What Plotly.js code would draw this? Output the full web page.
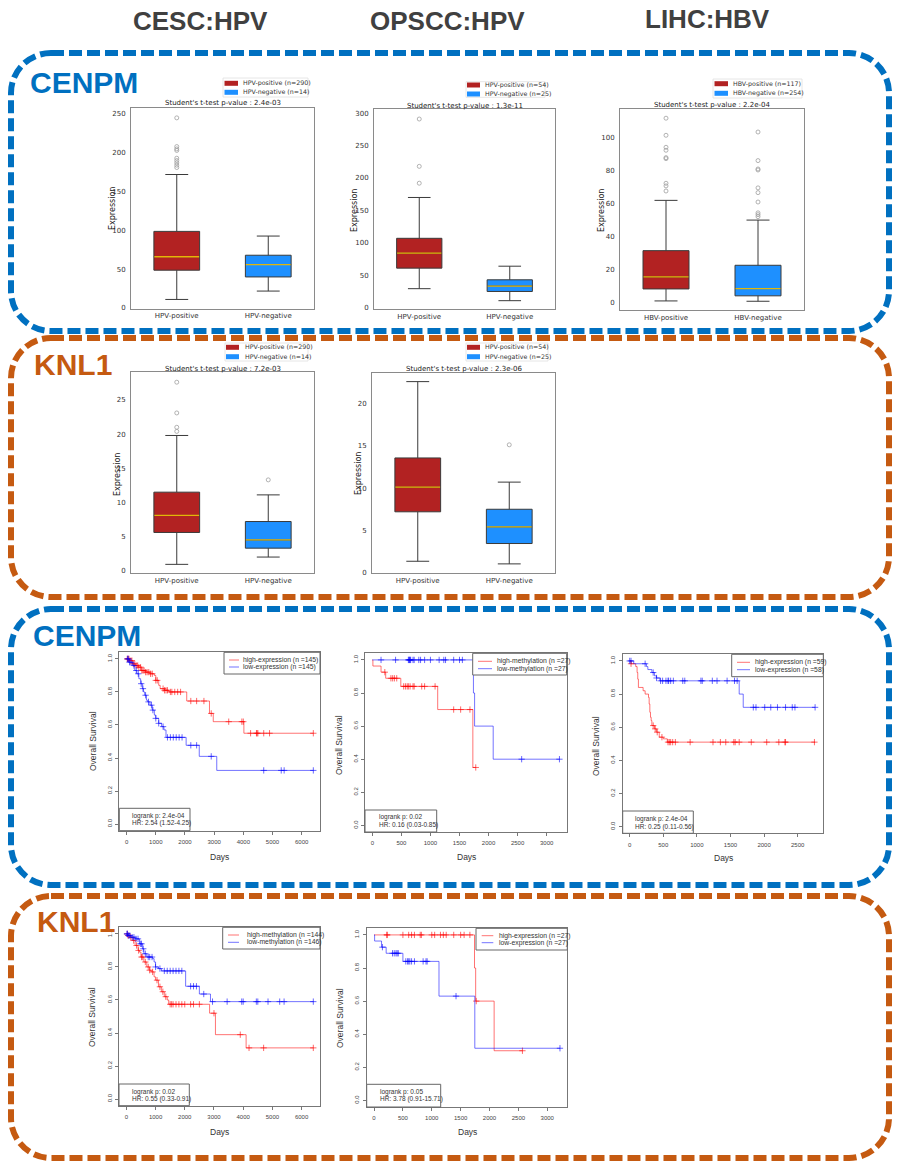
<!DOCTYPE html>
<html><head><meta charset="utf-8">
<script src="https://cdn.plot.ly/plotly-3.0.1.min.js"></script>
<style>html,body{margin:0;padding:0;background:#fff}#chart{width:898px;height:1164px}</style>
</head><body><div id="chart"></div>
<script>
const W = 898, H = 1164;

// ---------------- data ----------------
const columnTitles = ['CESC:HPV', 'OPSCC:HPV', 'LIHC:HBV'];
const geneLabels = ['CENPM', 'KNL1', 'CENPM', 'KNL1'];
const hpvGroups = ['HPV-positive', 'HPV-negative'];
const hbvGroups = ['HBV-positive', 'HBV-negative'];

// box stats: [lower whisker, Q1, median, Q3, upper whisker]
const cenpmCescPos = [11, 48.7, 66, 98.7, 172];
const cenpmCescNeg = [21.8, 40, 56, 68, 92.7];
const cenpmCescPosOut = [181, 184, 187, 190, 193, 203, 205, 208, 245];
const cenpmCescNegOut = [];
const cescCounts = [290, 14];
const cenpmCescP = '2.4e-03';

const cenpmOpsccPos = [29.3, 61, 84, 107, 170];
const cenpmOpsccNeg = [10.8, 25, 33.4, 43, 64];
const cenpmOpsccPosOut = [192, 218, 291];
const cenpmOpsccNegOut = [];
const opsccCounts = [54, 25];
const cenpmOpsccP = '1.3e-11';

const cenpmLihcPos = [0.8, 8.1, 15.4, 31.4, 62];
const cenpmLihcNeg = [0.6, 3.9, 8.3, 22.5, 50];
const cenpmLihcPosOut = [67.7, 70.8, 72.4, 87.4, 88, 92.5, 94.3, 101.6, 112];
const cenpmLihcNegOut = [52.1, 53.3, 54.4, 61, 66.7, 69.6, 80.5, 81.1, 86.2, 103.6];
const lihcCounts = [117, 254];
const cenpmLihcP = '2.2e-04';

const knl1CescPos = [0.93, 5.6, 8.1, 11.5, 19.8];
const knl1CescNeg = [2.0, 3.3, 4.5, 7.2, 11.1];
const knl1CescPosOut = [20.4, 21.0, 23.1, 27.6];
const knl1CescNegOut = [13.3];
const knl1CescP = '7.2e-03';

const knl1OpsccPos = [1.37, 7.2, 10.1, 13.55, 22.55];
const knl1OpsccNeg = [1.06, 3.46, 5.42, 7.5, 10.7];
const knl1OpsccPosOut = [];
const knl1OpsccNegOut = [15.1];
const knl1OpsccP = '2.3e-06';

// Kaplan-Meier curves: step times (days) and survival; censor times
const km1HighT = [0, 100, 200, 300, 400, 500, 650, 800, 950, 1000, 1100, 1150, 1300, 1450, 2060, 2840, 2970, 4020, 6400];
const km1HighS = [1, 0.99, 0.97, 0.96, 0.95, 0.93, 0.92, 0.91, 0.90, 0.87, 0.84, 0.82, 0.81, 0.80, 0.745, 0.67, 0.62, 0.55, 0.55];
const km1HighC = [20, 50, 80, 120, 180, 230, 280, 330, 380, 420, 480, 520, 560, 600, 650, 700, 760, 820, 880, 1000, 1050, 1250, 1300, 1350, 1400, 1500, 1550, 1650, 1750, 1850, 2200, 2400, 2650, 2900, 3500, 3950, 4000, 4250, 4450, 4470, 4500, 4700, 4900, 6400];
const km1LowT = [0, 80, 200, 280, 350, 420, 480, 540, 580, 620, 680, 720, 800, 880, 950, 1000, 1100, 1200, 1280, 1350, 2040, 2490, 3090, 6400];
const km1LowS = [1, 0.98, 0.96, 0.93, 0.91, 0.88, 0.85, 0.82, 0.80, 0.78, 0.75, 0.74, 0.72, 0.69, 0.66, 0.64, 0.61, 0.59, 0.57, 0.525, 0.477, 0.41, 0.325, 0.325];
const km1LowC = [30, 60, 100, 150, 250, 330, 400, 500, 560, 650, 750, 850, 900, 1000, 1100, 1250, 1400, 1500, 1600, 1700, 1800, 1900, 2200, 2400, 2900, 4700, 5300, 5400, 6400];
const km1Labels = ['high-expression (n =145)', 'low-expression (n =145)'];
const km1Stats = ['logrank p: 2.4e-04', 'HR: 2.54 (1.52-4.25)'];

const km2HighT = [0, 10, 150, 230, 490, 1125, 1730, 1780];
const km2HighS = [1, 0.963, 0.926, 0.889, 0.84, 0.70, 0.35, 0.35];
const km2HighC = [215, 320, 350, 380, 420, 540, 570, 600, 620, 650, 700, 720, 850, 900, 1080, 1400, 1520, 1680, 1780];
const km2LowT = [0, 1740, 1760, 2080, 3220];
const km2LowS = [1, 0.8, 0.6, 0.4, 0.4];
const km2LowC = [150, 400, 620, 630, 640, 650, 660, 700, 720, 800, 830, 900, 1000, 1150, 1230, 1260, 1400, 1500, 1550, 2570, 3220];
const km2Labels = ['high-methylation (n =27)', 'low-methylation (n =27)'];
const km2Stats = ['logrank p: 0.02', 'HR: 0.16 (0.03-0.85)'];

const km3HighT = [0, 20, 90, 110, 120, 130, 200, 230, 280, 290, 300, 310, 320, 330, 370, 400, 440, 500, 560, 2760];
const km3HighS = [1, 0.983, 0.966, 0.93, 0.89, 0.84, 0.82, 0.80, 0.78, 0.74, 0.69, 0.66, 0.64, 0.61, 0.59, 0.57, 0.54, 0.53, 0.51, 0.51];
const km3HighC = [20, 350, 380, 410, 480, 570, 590, 610, 640, 680, 900, 1240, 1350, 1430, 1550, 1570, 1630, 1810, 2040, 2220, 2310, 2320, 2750];
const km3LowT = [0, 60, 250, 270, 330, 370, 400, 450, 1630, 1690, 2760];
const km3LowS = [1, 0.983, 0.966, 0.948, 0.93, 0.91, 0.897, 0.88, 0.80, 0.72, 0.72];
const km3LowC = [0, 20, 230, 350, 400, 460, 490, 540, 570, 580, 610, 650, 790, 820, 1060, 1080, 1230, 1300, 1450, 1560, 1600, 1840, 1880, 2010, 2100, 2200, 2320, 2420, 2460, 2760];
const km3Labels = ['high-expression (n =59)', 'low-expression (n =58)'];
const km3Stats = ['logrank p: 2.4e-04', 'HR: 0.25 (0.11-0.56)'];

const km4HighT = [0, 50, 100, 200, 300, 400, 450, 500, 600, 700, 800, 850, 950, 1000, 1100, 1200, 1300, 1400, 1450, 2850, 3050, 4100, 6400];
const km4HighS = [1, 0.99, 0.98, 0.96, 0.93, 0.90, 0.89, 0.86, 0.83, 0.80, 0.78, 0.77, 0.74, 0.72, 0.68, 0.65, 0.62, 0.60, 0.574, 0.52, 0.39, 0.31, 0.31];
const km4HighC = [30, 60, 150, 250, 350, 420, 520, 560, 650, 750, 800, 900, 1050, 1150, 1250, 1350, 1500, 1550, 1600, 1700, 1800, 1900, 2000, 2200, 2300, 2500, 3000, 3900, 4200, 4700, 6400];
const km4LowT = [0, 50, 150, 300, 450, 550, 600, 700, 900, 950, 1000, 1100, 1200, 2030, 2500, 2880, 6400];
const km4LowS = [1, 0.99, 0.98, 0.97, 0.94, 0.91, 0.88, 0.86, 0.85, 0.83, 0.80, 0.79, 0.776, 0.683, 0.636, 0.59, 0.59];
const km4LowC = [20, 40, 80, 120, 200, 260, 330, 400, 480, 520, 580, 650, 750, 800, 880, 1000, 1150, 1300, 1400, 1500, 1600, 1700, 1800, 1900, 2200, 2300, 2400, 2650, 2950, 3450, 3950, 4000, 4450, 4500, 4850, 5250, 5400, 6400];
const km4Labels = ['high-methylation (n =144)', 'low-methylation (n =146)'];
const km4Stats = ['logrank p: 0.02', 'HR: 0.55 (0.33-0.91)'];

const km5HighT = [0, 1740, 1760, 2080, 2570];
const km5HighS = [1, 0.8, 0.6, 0.3, 0.3];
const km5HighC = [220, 230, 500, 600, 650, 700, 800, 820, 1000, 1050, 1150, 1200, 1250, 1380, 1500, 1560, 1660, 1770, 2570];
const km5LowT = [0, 10, 130, 210, 500, 1125, 1745, 3220];
const km5LowS = [1, 0.963, 0.926, 0.889, 0.84, 0.63, 0.315, 0.315];
const km5LowC = [145, 320, 350, 380, 400, 420, 550, 580, 600, 620, 650, 700, 850, 900, 920, 1420, 3220];
const km5Labels = ['high-expression (n =27)', 'low-expression (n =27)'];
const km5Stats = ['logrank p: 0.05', 'HR: 3.78 (0.91-15.71)'];

// ---------------- helpers ----------------
const PX = x => x / W;
const PY = y => 1 - y / H;
const BLUE = '#0070C0', ORANGE = '#C55A11';
const BOXCOL = ['#b22222', '#1e90ff'];
const MEDCOL = 'rgba(255,205,0,0.85)';
const KMCOL = {line: ['rgba(255,0,0,0.55)', 'rgba(0,0,255,0.55)'], mark: ['rgba(255,0,0,0.6)', 'rgba(0,0,255,0.6)']};
const MPL = 'DejaVu Sans', RF = 'Liberation Sans';

const traces = [];
const layout = {
  width: W, height: H, margin: {l: 0, r: 0, t: 0, b: 0},
  paper_bgcolor: '#ffffff', plot_bgcolor: '#ffffff', showlegend: false,
  shapes: [], annotations: []
};

function ax(i) { return i === 1 ? '' : String(i); }
function text(t, x, y, size, o = {}) {
  layout.annotations.push(Object.assign({
    text: t, x: PX(x), y: PY(y), xref: 'paper', yref: 'paper', showarrow: false,
    xanchor: 'center', yanchor: 'middle',
    font: {family: o.family || RF, size: size, color: o.color || '#333'}
  }, o.extra || {}));
}
function rect(l, t, r, b, line, fill, width) {
  layout.shapes.push({type: 'rect', xref: 'paper', yref: 'paper',
    x0: PX(l), x1: PX(r), y0: PY(b), y1: PY(t),
    line: {color: line, width: width === undefined ? 1 : width}, fillcolor: fill || 'rgba(0,0,0,0)'});
}
function hline(x0, x1, y, color, width) {
  layout.shapes.push({type: 'line', xref: 'paper', yref: 'paper',
    x0: PX(x0), x1: PX(x1), y0: PY(y), y1: PY(y), line: {color: color, width: width}});
}
function roundFrame(l, t, r, b, rad, color) {
  const k = 0.5523 * rad;
  const p = (x, y) => PX(x).toFixed(5) + ',' + PY(y).toFixed(5);
  const d = 'M' + p(l + rad, t) + ' L' + p(r - rad, t) +
    ' C' + p(r - rad + k, t) + ' ' + p(r, t + rad - k) + ' ' + p(r, t + rad) +
    ' L' + p(r, b - rad) +
    ' C' + p(r, b - rad + k) + ' ' + p(r - rad + k, b) + ' ' + p(r - rad, b) +
    ' L' + p(l + rad, b) +
    ' C' + p(l + rad - k, b) + ' ' + p(l, b - rad + k) + ' ' + p(l, b - rad) +
    ' L' + p(l, t + rad) +
    ' C' + p(l, t + rad - k) + ' ' + p(l + rad - k, t) + ' ' + p(l + rad, t) + ' Z';
  layout.shapes.push({type: 'path', xref: 'paper', yref: 'paper', path: d, layer: 'below',
    line: {color: color, width: 6, dash: '13px,5px'}, fillcolor: 'rgba(0,0,0,0)'});
}

function boxPanel(i, f, yRange, yTicks, groups, stats, outs, counts, pval, titleY, leg, ylab) {
  const xa = 'x' + ax(i), ya = 'y' + ax(i);
  for (let g = 0; g < 2; g++) {
    const s = stats[g];
    traces.push({type: 'box', x: [g], lowerfence: [s[0]], q1: [s[1]], median: [s[2]], q3: [s[3]], upperfence: [s[4]],
      width: 0.5, whiskerwidth: 0.5, fillcolor: BOXCOL[g], line: {color: '#3a3a3a', width: 1},
      boxpoints: false, hoverinfo: 'skip', xaxis: xa, yaxis: ya});
    traces.push({type: 'scatter', mode: 'lines', x: [g - 0.245, g + 0.245], y: [s[2], s[2]],
      line: {color: MEDCOL, width: 1.3}, hoverinfo: 'skip', xaxis: xa, yaxis: ya});
    if (outs[g].length) traces.push({type: 'scatter', mode: 'markers', x: outs[g].map(() => g), y: outs[g],
      marker: {symbol: 'circle-open', size: 4, color: '#a0a0a0', line: {width: 0.8}}, hoverinfo: 'skip', xaxis: xa, yaxis: ya});
  }
  layout['xaxis' + ax(i)] = {domain: [PX(f.l), PX(f.r)], anchor: ya, range: [-0.5, 1.5],
    tickvals: [0, 1], ticktext: groups, ticks: '', showgrid: false, zeroline: false,
    showline: true, mirror: true, linecolor: '#8a8a8a', linewidth: 1, ticklabelstandoff: 0,
    tickfont: {family: MPL, size: 7, color: '#333'}};
  layout['yaxis' + ax(i)] = {domain: [PY(f.b), PY(f.t)], anchor: xa, range: yRange,
    tickvals: yTicks, ticks: '', showgrid: false, zeroline: false,
    showline: true, mirror: true, linecolor: '#8a8a8a', linewidth: 1, ticklabelstandoff: 3,
    tickfont: {family: MPL, size: 7, color: '#333'}};
  text("Student's t-test p-value : " + pval, (f.l + f.r) / 2, titleY, 7, {family: MPL, color: '#222'});
  text('Expression', ylab[0], ylab[1], 8, {family: MPL, color: '#222', extra: {textangle: -90}});
  rect(leg.l, leg.t, leg.r, leg.b, '#e0e0e0', '#ffffff', 0.8);
  for (let g = 0; g < 2; g++) {
    const ry = leg.rows[g];
    rect(leg.px[0], ry - 2.5, leg.px[1], ry + 2.5, BOXCOL[g], BOXCOL[g], 0);
    text(groups[g] + ' (n=' + counts[g] + ')', leg.tx, ry, 6.3, {family: MPL, color: '#333', extra: {xanchor: 'left'}});
  }
}

function stepAt(T, S, t) {
  let v = S[0];
  for (let k = 0; k < T.length; k++) if (T[k] <= t) v = S[k];
  return v;
}

function kmPanel(i, f, xRange, xDtick, curves, labels, stats, leg, sb, ylab, days) {
  const xa = 'x' + ax(i), ya = 'y' + ax(i);
  curves.forEach((c, g) => {
    traces.push({type: 'scatter', mode: 'lines', x: c[0], y: c[1], line: {shape: 'hv', color: KMCOL.line[g], width: 1},
      hoverinfo: 'skip', xaxis: xa, yaxis: ya});
    traces.push({type: 'scatter', mode: 'markers', x: c[2], y: c[2].map(t => stepAt(c[0], c[1], t)),
      marker: {symbol: 'cross-thin-open', size: 4.5, color: KMCOL.mark[g], line: {width: 1, color: KMCOL.mark[g]}},
      hoverinfo: 'skip', xaxis: xa, yaxis: ya});
  });
  layout['xaxis' + ax(i)] = {domain: [PX(f.l), PX(f.r)], anchor: ya, range: xRange, tick0: 0, dtick: xDtick,
    ticks: 'outside', ticklen: 3, tickcolor: '#777', showgrid: false, zeroline: false,
    showline: true, mirror: true, linecolor: '#777', linewidth: 1, ticklabelstandoff: 2,
    tickfont: {family: RF, size: 6, color: '#444'}};
  layout['yaxis' + ax(i)] = {domain: [PY(f.b), PY(f.t)], anchor: xa, range: [-0.04, 1.04],
    tickvals: [0, 0.2, 0.4, 0.6, 0.8, 1.0], tickformat: '.1f', tickangle: -90,
    ticks: 'outside', ticklen: 3, tickcolor: '#777', showgrid: false, zeroline: false,
    showline: true, mirror: true, linecolor: '#777', linewidth: 1, ticklabelstandoff: 1,
    tickfont: {family: RF, size: 6, color: '#444'}};
  text('Overall Survival', ylab[0], ylab[1], 8.5, {color: '#333', extra: {textangle: -90}});
  text('Days', days[0], days[1], 8.5, {color: '#333'});
  rect(leg.l, leg.t, leg.r, leg.b, '#666', '#ffffff', 1);
  for (let g = 0; g < 2; g++) {
    hline(leg.lx[0], leg.lx[1], leg.rows[g], KMCOL.line[g], 1);
    text(labels[g], leg.tx, leg.rows[g], 6.8, {color: '#333', extra: {xanchor: 'left'}});
  }
  rect(sb.l, sb.t, sb.r, sb.b, '#666', '#ffffff', 1);
  text(stats[0], sb.tx, sb.rows[0], 6.5, {color: '#333', extra: {xanchor: 'left'}});
  text(stats[1], sb.tx, sb.rows[1], 6.5, {color: '#333', extra: {xanchor: 'left'}});
}

// ---------------- frames & labels ----------------
roundFrame(11, 53, 889, 331, 40, BLUE);
roundFrame(11, 338, 889, 597, 40, ORANGE);
roundFrame(11, 609, 889, 885, 40, BLUE);
roundFrame(11, 896, 889, 1158, 40, ORANGE);

[[200, 21], [447, 21], [707, 19]].forEach((p, k) =>
  text('<b>' + columnTitles[k] + '</b>', p[0], p[1], 26, {color: '#404040'}));
[[28, 83, BLUE], [32, 364, ORANGE], [31, 636, BLUE], [35, 921, ORANGE]].forEach((p, k) =>
  text('<b>' + geneLabels[k] + '</b>', p[0], p[1], 30, {color: p[2], extra: {xanchor: 'left'}}));

// ---------------- box plot panels ----------------
boxPanel(1, {l: 131, t: 108, r: 314, b: 309}, [-1.3, 257.7], [0, 50, 100, 150, 200, 250], hpvGroups,
  [cenpmCescPos, cenpmCescNeg], [cenpmCescPosOut, cenpmCescNegOut], cescCounts, cenpmCescP, 103,
  {l: 223, t: 78, r: 308, b: 97, rows: [83.3, 92.3], px: [224.5, 238], tx: 241}, [112, 209]);
boxPanel(2, {l: 374, t: 109.3, r: 555, b: 309.3}, [-2.5, 306], [0, 50, 100, 150, 200, 250, 300], hpvGroups,
  [cenpmOpsccPos, cenpmOpsccNeg], [cenpmOpsccPosOut, cenpmOpsccNegOut], opsccCounts, cenpmOpsccP, 106,
  {l: 466, t: 81.7, r: 545, b: 97.3, rows: [85, 94], px: [467, 480], tx: 483}, [354, 211]);
boxPanel(3, {l: 620, t: 109, r: 804, b: 310.3}, [-4.9, 117.6], [0, 20, 40, 60, 80, 100], hbvGroups,
  [cenpmLihcPos, cenpmLihcNeg], [cenpmLihcPosOut, cenpmLihcNegOut], lihcCounts, cenpmLihcP, 105,
  {l: 713, t: 79, r: 802, b: 98, rows: [83.7, 93.3], px: [714.5, 728], tx: 731}, [601, 211]);
boxPanel(4, {l: 131, t: 372.3, r: 314, b: 573.3}, [-0.38, 29.05], [0, 5, 10, 15, 20, 25], hpvGroups,
  [knl1CescPos, knl1CescNeg], [knl1CescPosOut, knl1CescNegOut], cescCounts, knl1CescP, 369,
  {l: 225, t: 343, r: 308, b: 361, rows: [347.3, 356.7], px: [226, 239], tx: 243}, [117, 474]);
boxPanel(5, {l: 372, t: 372.7, r: 555, b: 573.3}, [-0.05, 23.6], [0, 5, 10, 15, 20], hpvGroups,
  [knl1OpsccPos, knl1OpsccNeg], [knl1OpsccPosOut, knl1OpsccNegOut], opsccCounts, knl1OpsccP, 369,
  {l: 466, t: 343, r: 548, b: 361, rows: [347.3, 356.7], px: [467, 480], tx: 483}, [358, 474]);

// ---------------- survival panels ----------------
kmPanel(6, {l: 119.3, t: 652.3, r: 320, b: 830.7}, [-251, 6629], 1000,
  [[km1HighT, km1HighS, km1HighC], [km1LowT, km1LowS, km1LowC]], km1Labels, km1Stats,
  {l: 224, t: 652.3, r: 320, b: 674, rows: [660, 667], lx: [229, 239], tx: 241},
  {l: 119.3, t: 808.3, r: 190, b: 830.7, rows: [816, 822.7], tx: 130}, [93, 741], [219.5, 857]);
kmPanel(7, {l: 365, t: 653.3, r: 566.7, b: 832}, [-126, 3345], 500,
  [[km2HighT, km2HighS, km2HighC], [km2LowT, km2LowS, km2LowC]], km2Labels, km2Stats,
  {l: 472.7, t: 653.3, r: 566.7, b: 675, rows: [661.3, 668.7], lx: [478, 492], tx: 495},
  {l: 365, t: 810, r: 436.7, b: 832, rows: [816.7, 825], tx: 376.7}, [339, 745], [466, 857]);
kmPanel(8, {l: 622.7, t: 654.3, r: 823.3, b: 833.3}, [-104, 2882], 500,
  [[km3HighT, km3HighS, km3HighC], [km3LowT, km3LowS, km3LowC]], km3Labels, km3Stats,
  {l: 731.7, t: 654.3, r: 823.3, b: 676.7, rows: [662.3, 669.7], lx: [737, 750], tx: 753},
  {l: 622.7, t: 811, r: 693.3, b: 833.3, rows: [819, 826.7], tx: 633.3}, [596, 746], [723, 858]);
kmPanel(9, {l: 119, t: 927.3, r: 320, b: 1105.7}, [-251, 6629], 1000,
  [[km4HighT, km4HighS, km4HighC], [km4LowT, km4LowS, km4LowC]], km4Labels, km4Stats,
  {l: 222.7, t: 927.3, r: 320, b: 949, rows: [935, 942.3], lx: [228, 239], tx: 245},
  {l: 119, t: 1084, r: 189.3, b: 1105.7, rows: [1091.7, 1099], tx: 130}, [92, 1017], [219.5, 1132]);
kmPanel(10, {l: 366.7, t: 928.3, r: 567.3, b: 1107}, [-127, 3347], 500,
  [[km5HighT, km5HighS, km5HighC], [km5LowT, km5LowS, km5LowC]], km5Labels, km5Stats,
  {l: 476, t: 928.3, r: 567.3, b: 950, rows: [935.7, 942.7], lx: [481.7, 493.3], tx: 497.3},
  {l: 366.7, t: 1084.3, r: 440.7, b: 1107, rows: [1091.7, 1099], tx: 378.3}, [340, 1018], [467.5, 1132]);

Plotly.newPlot('chart', traces, layout, {staticPlot: true, displayModeBar: false});
</script></body></html>
